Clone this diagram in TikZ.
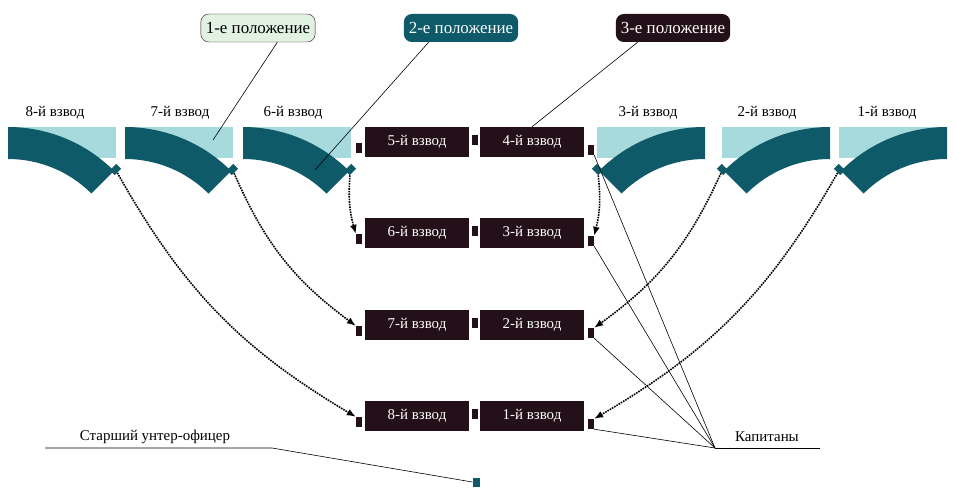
\documentclass[tikz,border=0pt]{standalone}
\usepackage{fontspec}
\setmainfont{Liberation Serif}
\usetikzlibrary{calc,arrows.meta}
\definecolor{teal1}{HTML}{0E5A68}
\definecolor{teal2}{HTML}{A6DADD}
\definecolor{boxdark}{HTML}{231018}
\definecolor{pale}{HTML}{E2F2E2}
\tikzset{
  platoon/.style={fill=boxdark,text=white,minimum width=104bp,minimum height=30bp,inner sep=0pt,font=\fontsize{15}{15}\selectfont},
  stagebox/.style={rounded corners=8bp,minimum height=28bp,inner sep=5bp,font=\fontsize{17}{17}\selectfont},
  dmark/.style={fill=boxdark,minimum width=6bp,minimum height=10bp,inner sep=0pt},
  tmark/.style={fill=teal1,minimum width=9bp,minimum height=7bp,inner sep=0pt,rotate=#1},
  lbl/.style={font=\fontsize{15}{15}\selectfont},
  movearrow/.style={densely dotted,line width=1.6pt,-{Latex[length=9pt,width=7pt]}},
  leadline/.style={line width=0.6pt},
}
\newcommand{\leftarc}[2]{%
  \fill[teal2] (#1,127) rectangle ++(108,31);
  \fill[teal1] (#1,127) arc[start angle=-90,end angle=-45,radius=150]
    -- ($(#1,277)+(-45:118)$) arc[start angle=-45,end angle=-90,radius=118] -- cycle;
  \node[tmark=45] (#2) at ($(#1,277)+(-45:152)$) {};}
\newcommand{\rightarc}[2]{%
  \fill[teal2] (#1,127) rectangle ++(-108,31);
  \fill[teal1] (#1,127) arc[start angle=-90,end angle=-135,radius=150]
    -- ($(#1,277)+(-135:118)$) arc[start angle=-135,end angle=-90,radius=118] -- cycle;
  \node[tmark=-45] (#2) at ($(#1,277)+(-135:152)$) {};}
\begin{document}
\begin{tikzpicture}[x=1bp,y=-1bp]
\useasboundingbox (0,0) rectangle (956,497);
%% arcs of the first position
\leftarc{8}{a8}
\leftarc{125}{a7}
\leftarc{243}{a6}
\rightarc{705}{a3}
\rightarc{830}{a2}
\rightarc{947}{a1}
\node[lbl] (l8) at (55,113) {8-й взвод};
\node[lbl] (l7) at (180,113) {7-й взвод};
\node[lbl] (l6) at (293,113) {6-й взвод};
\node[lbl] (l3) at (648,113) {3-й взвод};
\node[lbl] (l2) at (767,113) {2-й взвод};
\node[lbl] (l1) at (887,113) {1-й взвод};
%% columns
\node[platoon] (p5) at (417,142) {5-й взвод};
\node[platoon] (p4) at (532,142) {4-й взвод};
\node[platoon] (p6) at (417,233) {6-й взвод};
\node[platoon] (p3) at (532,233) {3-й взвод};
\node[platoon] (p7) at (417,325) {7-й взвод};
\node[platoon] (p2) at (532,325) {2-й взвод};
\node[platoon] (p8) at (417,416) {8-й взвод};
\node[platoon] (p1) at (532,416) {1-й взвод};
\foreach \r/\y in {1/142,2/233,3/325,4/416} {
  \node[dmark] (ml\r) at (359,\y+6) {};
  \node[dmark] (mc\r) at (474.5,\y-2) {};
  \node[dmark] (mr\r) at (591,\y+8) {};
}
%% positions
\node[stagebox,draw=boxdark,fill=pale,text=black] (s1) at (258,28) {1-е положение};
\node[stagebox,fill=teal1,text=white] (s2) at (461,28) {2-е положение};
\node[stagebox,fill=boxdark,text=white] (s3) at (673,28) {3-е положение};
\coordinate (t1) at (213,140);
\coordinate (t2) at (315,170);
\draw[leadline] (s1.south east) ++(-38,0) -- (t1);
\draw[leadline] (s2.south west) ++(25,0) -- (t2);
\draw[leadline] (s3.south west) ++(22,0) -- (p4.north);
%% moves
\draw[movearrow] (a6) to[bend right=10] (ml2.north west);
\draw[movearrow] (a7) to[bend right=15] (ml3.north west);
\draw[movearrow] (a8) to[bend right=15] (ml4.north west);
\draw[movearrow] (a3) to[bend left=10] (mr2.north east);
\draw[movearrow] (a2) to[bend left=15] (mr3.north east);
\draw[movearrow] (a1) to[bend left=15] (mr4.north east);
%% notes
\node[lbl] (cap) at (767,437) {Капитаны};
\draw[leadline] (715,448) -- (820,448);
\foreach \r in {1,...,4} \draw[leadline] (715,448) -- (mr\r.south east);
\node[lbl] (nco) at (155,437) {Старший унтер-офицер};
\node[tmark=0,minimum width=7bp,minimum height=9bp] (sq) at (476,482) {};
\draw[leadline] (45,448) -- (272,448) -- (sq.west);
\end{tikzpicture}
\end{document}
